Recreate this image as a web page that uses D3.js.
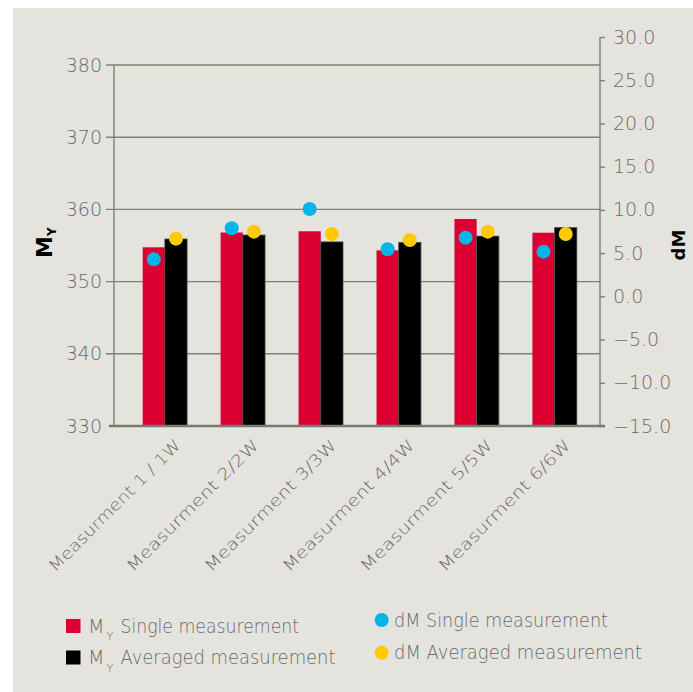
<!DOCTYPE html>
<html>
<head>
<meta charset="utf-8">
<script src="https://cdn.jsdelivr.net/npm/d3@7/dist/d3.min.js"></script>
<style>
  html, body { margin: 0; padding: 0; background: #ffffff; }
  svg { display: block; }
  text { font-family: "DejaVu Sans", sans-serif; }
</style>
</head>
<body>
<svg id="chart" width="693" height="692"></svg>
<script>
// ---- data ----
const categories = ["Measurment 1 / 1W", "Measurment 2/2W", "Measurment 3/3W", "Measurment 4/4W", "Measurment 5/5W", "Measurment 6/6W"];
const mySingle   = [354.75, 356.8, 356.97, 354.33, 358.67, 356.77];
const myAveraged = [355.9, 356.45, 355.5, 355.44, 356.3, 357.47];
const dmSingle   = [4.28, 7.87, 10.1, 5.44, 6.79, 5.17];
const dmAveraged = [6.67, 7.48, 7.21, 6.52, 7.48, 7.21];
const leftTicks  = [330, 340, 350, 360, 370, 380];
const rightTicks = [-15, -10, -5, 0, 5, 10, 15, 20, 25, 30];
const legendLeft = ["Single measurement", "Averaged measurement"];
const legendRight = ["dM Single measurement", "dM Averaged measurement"];

const C = { red: "#dc0032", black: "#000000", blue: "#00b5e8", yellow: "#ffcb00",
            bg: "#e4e3de", axis: "#807f75", text: "#6a6a66" };

const svg = d3.select("#chart");
svg.append("rect").attr("x", 13).attr("y", 8).attr("width", 680).attr("height", 684).attr("fill", C.bg);

const yL = d3.scaleLinear().domain([330, 380]).range([426, 65]);
const yR = d3.scaleLinear().domain([-15, 30]).range([426, 37]);
const x = d3.scaleBand().domain(categories).range([125.9, 593.6]).paddingInner(0.43).paddingOuter(0.215);
const xs = d3.scaleBand().domain(["s", "a"]).range([0, x.bandwidth()]);

// gridlines
svg.append("g").selectAll("line").data(leftTicks.filter(d => d > 330)).join("line")
  .attr("x1", 106).attr("x2", 600).attr("y1", d => yL(d)).attr("y2", d => yL(d))
  .attr("stroke", C.axis).attr("stroke-width", 1.4);

// left axis
const gL = svg.append("g").attr("transform", "translate(114,0)")
  .call(d3.axisLeft(yL).tickValues(leftTicks).tickSize(0).tickPadding(12).tickFormat(d3.format("d")));
gL.select(".domain").remove();
gL.selectAll("text").attr("font-size", 19).attr("font-weight", 200).attr("fill", C.text);
svg.append("line").attr("x1", 114).attr("x2", 114).attr("y1", 65).attr("y2", 426)
  .attr("stroke", C.axis).attr("stroke-width", 1.4);

// right axis
const gR = svg.append("g").attr("transform", "translate(600,0)")
  .call(d3.axisRight(yR).tickValues(rightTicks).tickSize(5).tickPadding(8).tickFormat(d3.format(".1f")));
gR.select(".domain").remove();
gR.selectAll(".tick line").attr("stroke", C.axis).attr("stroke-width", 1.4);
gR.selectAll("text").attr("font-size", 19).attr("font-weight", 200).attr("fill", C.text);
svg.append("line").attr("x1", 600).attr("x2", 600).attr("y1", 37).attr("y2", 426)
  .attr("stroke", C.axis).attr("stroke-width", 1.4);

// bars
const groups = svg.append("g").selectAll("g").data(categories).join("g")
  .attr("transform", d => `translate(${x(d)},0)`);
groups.append("rect")
  .attr("x", xs("s")).attr("width", xs.bandwidth())
  .attr("y", (d, i) => yL(mySingle[i])).attr("height", (d, i) => yL(330) - yL(mySingle[i]))
  .attr("fill", C.red);
groups.append("rect")
  .attr("x", xs("a")).attr("width", xs.bandwidth())
  .attr("y", (d, i) => yL(myAveraged[i])).attr("height", (d, i) => yL(330) - yL(myAveraged[i]))
  .attr("fill", C.black).attr("stroke", "#4a4a46").attr("stroke-width", 0.8);

// bottom axis line
svg.append("line").attr("x1", 109).attr("x2", 605).attr("y1", 426).attr("y2", 426)
  .attr("stroke", "#7a796f").attr("stroke-width", 2.6);

// dots
groups.append("circle")
  .attr("cx", xs("s") + xs.bandwidth() / 2).attr("cy", (d, i) => yR(dmSingle[i]))
  .attr("r", 7).attr("fill", C.blue);
groups.append("circle")
  .attr("cx", xs("a") + xs.bandwidth() / 2).attr("cy", (d, i) => yR(dmAveraged[i]))
  .attr("r", 7).attr("fill", C.yellow);

// x labels
svg.append("g").selectAll("text").data(categories).join("text")
  .attr("transform", d => `translate(${x(d) + x.bandwidth() / 2 + 17},446) rotate(-45)`)
  .attr("text-anchor", "end").attr("font-size", 16).attr("font-weight", 200).attr("fill", C.text)
  .attr("textLength", 179).attr("lengthAdjust", "spacingAndGlyphs")
  .text(d => d);

// axis titles
const tL = svg.append("text").attr("transform", "translate(51.7,258) rotate(-90)")
  .attr("font-size", 22).attr("font-weight", "bold").attr("fill", "#000");
tL.append("tspan").text("M");
tL.append("tspan").attr("font-size", 12).attr("dy", 4).text("Y");

svg.append("text").attr("transform", "translate(685,245) rotate(-90)")
  .attr("text-anchor", "middle").attr("font-size", 18).attr("font-weight", "bold").attr("fill", "#000")
  .text("dM");

// legend (left: bar series)
const legColors = [C.red, C.black];
const legBase = [632.5, 664];
legendLeft.forEach((label, i) => {
  svg.append("rect").attr("x", 66).attr("y", legBase[i] - 13.5).attr("width", 14.5).attr("height", 14)
    .attr("fill", legColors[i]);
  svg.append("text").attr("x", 88).attr("y", legBase[i]).attr("font-size", 20).attr("font-weight", 200)
    .attr("fill", C.text).attr("textLength", 16.5).attr("lengthAdjust", "spacingAndGlyphs").text("M");
  svg.append("text").attr("x", 106.5).attr("y", legBase[i] + 7.5).attr("font-size", 11).attr("font-weight", 200)
    .attr("fill", C.text).text("Y");
  svg.append("text").attr("x", 120.5).attr("y", legBase[i]).attr("font-size", 19).attr("font-weight", 200)
    .attr("fill", C.text).attr("textLength", i === 0 ? 178.5 : 215).attr("lengthAdjust", "spacingAndGlyphs")
    .text(label);
});

// legend (right: dot series)
const dotColors = [C.blue, C.yellow];
const dotBase = [626.7, 659.3];
const dotCy = [620, 652.7];
legendRight.forEach((label, i) => {
  svg.append("circle").attr("cx", 381.7).attr("cy", dotCy[i]).attr("r", 7).attr("fill", dotColors[i]);
  svg.append("text").attr("x", 394).attr("y", dotBase[i]).attr("font-size", 19).attr("font-weight", 200)
    .attr("fill", C.text).attr("textLength", i === 0 ? 214 : 248).attr("lengthAdjust", "spacingAndGlyphs")
    .text(label);
});
</script>
</body>
</html>
